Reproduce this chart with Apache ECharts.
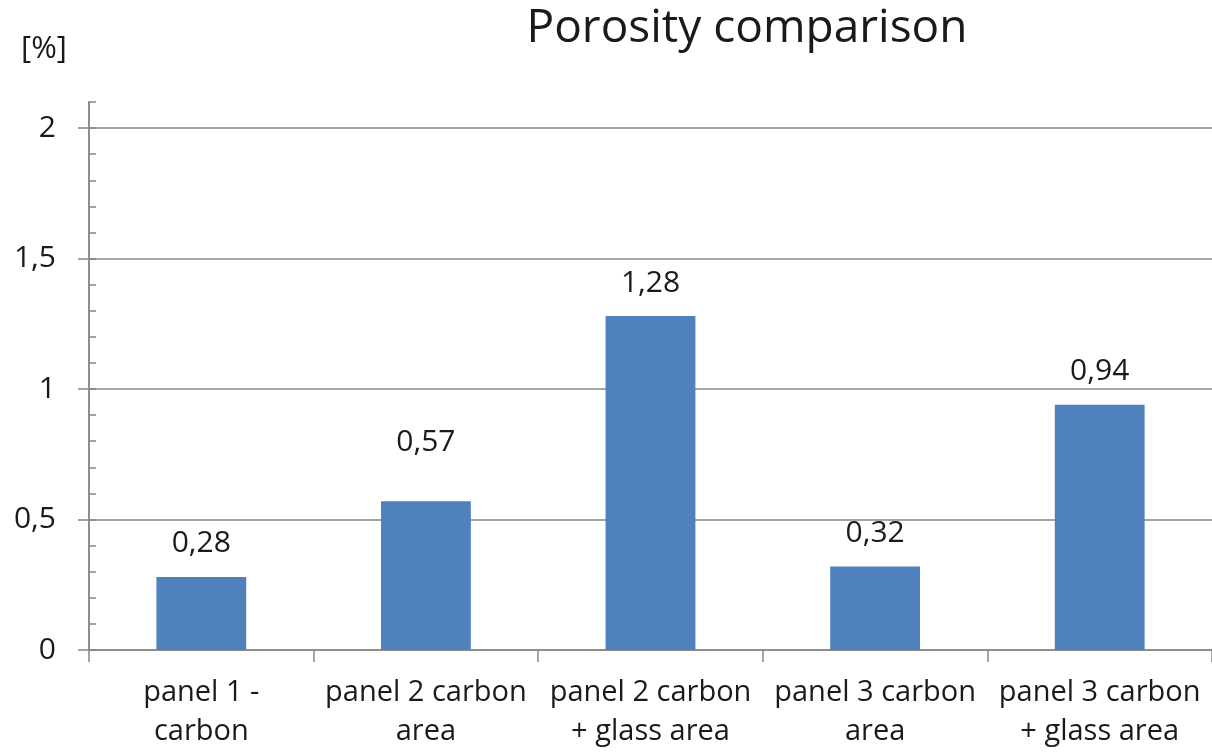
<!DOCTYPE html>
<html><head><meta charset="utf-8">
<script src="https://cdn.jsdelivr.net/npm/echarts@6/dist/echarts.min.js"></script>
<style>html,body{margin:0;padding:0;background:#fff}#c{width:1212px;height:752px}</style>
</head><body><div id="c"></div>
<script>
const categories = ['panel 1 -\ncarbon', 'panel 2 carbon\narea', 'panel 2 carbon\n+ glass area', 'panel 3 carbon\narea', 'panel 3 carbon\n+ glass area'];
const values = [0.28, 0.57, 1.28, 0.32, 0.94];
const yTickValues = [0, 0.5, 1, 1.5, 2];
const titleText = 'Porosity comparison';
const unitText = '[%]';

const fmt = v => String(v).replace('.', ',');
const FONT = '"Open Sans", sans-serif';
const AXIS = '#878787';
const TXT = '#1a1a1a';
const chart = echarts.init(document.getElementById('c'));
chart.setOption({
  animation: false,
  backgroundColor: '#fff',
  title: [
    { text: titleText, left: 742, top: 1, textAlign: 'center',
      textStyle: { fontFamily: FONT, fontSize: 46, fontWeight: 'normal', color: TXT } },
    { text: unitText, left: 16, top: 29,
      textStyle: { fontFamily: FONT, fontSize: 31, fontWeight: 'normal', color: TXT } }
  ],
  grid: { left: 89, right: 0, top: 102, bottom: 102, containLabel: false },
  xAxis: {
    type: 'category', data: categories,
    axisLine: { lineStyle: { color: AXIS, width: 1.5 } },
    axisTick: { show: true, length: 12, alignWithLabel: false, lineStyle: { color: AXIS, width: 1.5 } },
    axisLabel: { fontFamily: FONT, fontSize: 29, color: TXT, margin: 23, lineHeight: 39, interval: 0 }
  },
  yAxis: [
    {
      type: 'value', min: 0, max: 2.1, interval: 0.5, position: 'left',
      axisLine: { show: true, lineStyle: { color: AXIS, width: 1.5 } },
      axisTick: { show: true, length: 11, customValues: yTickValues, lineStyle: { color: AXIS, width: 1.5 } },
      axisLabel: { customValues: yTickValues, formatter: fmt,
        fontFamily: FONT, fontSize: 30, color: TXT, margin: 33 },
      splitLine: { show: true, lineStyle: { color: AXIS, width: 1.5 } }
    },
    {
      type: 'value', min: 0, max: 2.1, interval: 0.1, position: 'left',
      axisLine: { show: true, lineStyle: { color: AXIS, width: 1.5 } },
      axisTick: { show: true, inside: true, length: 7, lineStyle: { color: AXIS, width: 1.5 } },
      axisLabel: { show: false },
      splitLine: { show: false }
    }
  ],
  series: [{
    type: 'bar', yAxisIndex: 0, barWidth: '40%',
    itemStyle: { color: '#4f81bd' },
    data: values.map((v, i) => i === 1 ? { value: v, label: { distance: 44 } } : v),
    label: { show: true, position: 'top', distance: 18, formatter: p => fmt(p.value),
      fontFamily: FONT, fontSize: 30, color: TXT }
  }]
});
</script></body></html>
